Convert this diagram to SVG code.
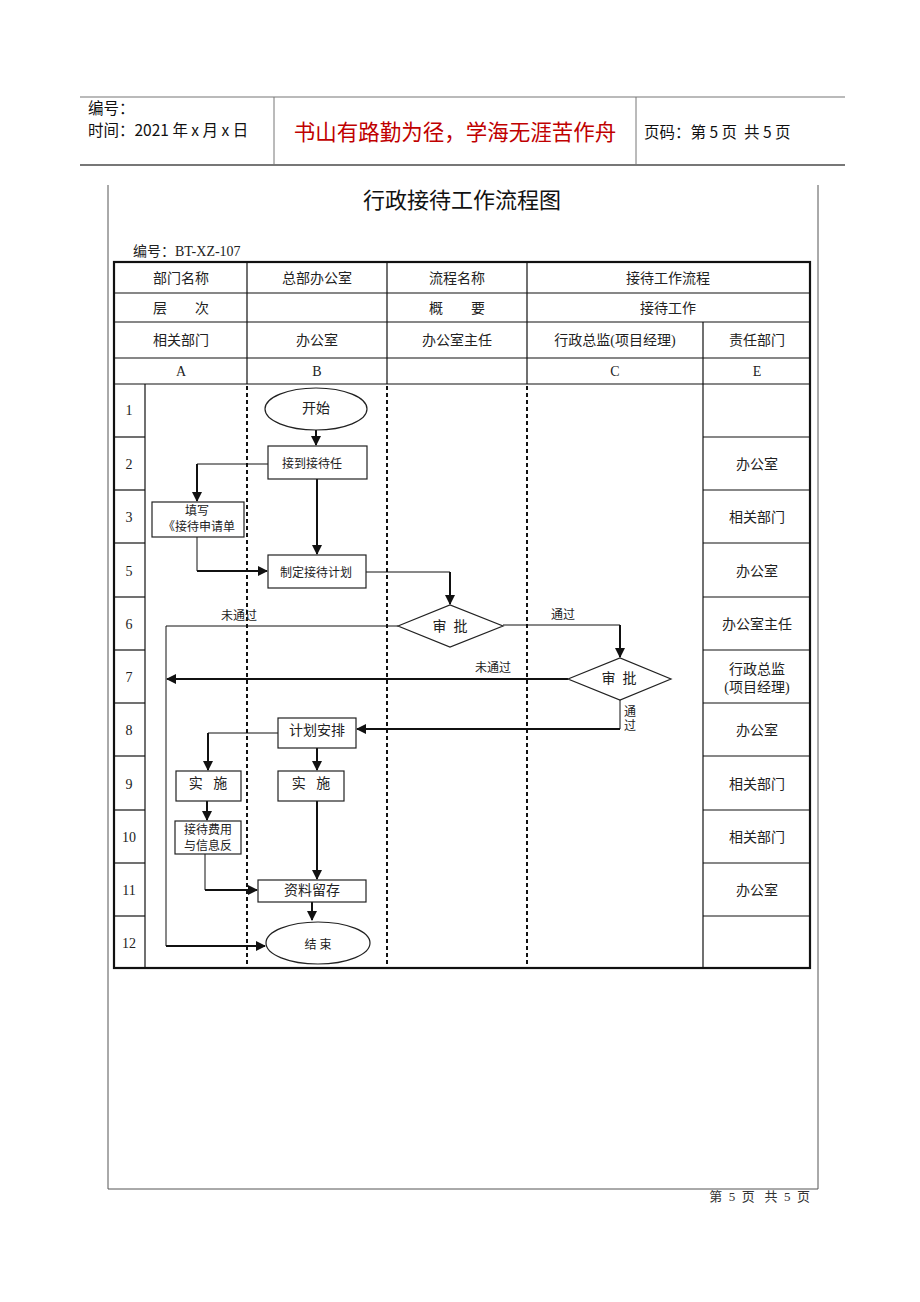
<svg xmlns="http://www.w3.org/2000/svg" width="920" height="1302" viewBox="0 0 920 1302">
<defs>
<style>
.hd{font-family:"Noto Sans CJK SC","Liberation Sans",sans-serif;font-size:15.5px;fill:#111}
.t{font-family:"Liberation Serif","Noto Sans CJK SC",serif;font-size:14px;fill:#222;text-anchor:middle;dominant-baseline:central}
.s{font-size:12px}
.frame{stroke:#555;stroke-width:1;fill:none}
.grid{stroke:#111;stroke-width:1.2;fill:none}
.dash{stroke:#111;stroke-width:2;stroke-dasharray:4 3;fill:none}
.node{fill:#fff;stroke:#222;stroke-width:1.2}
.thin{stroke:#111;stroke-width:1;fill:none}
.thick{stroke:#111;stroke-width:2;fill:none}
</style>
<marker id="ah" markerWidth="10" markerHeight="10" refX="9" refY="5" orient="auto" markerUnits="userSpaceOnUse">
<path d="M0,0 L10,5 L0,10 Z" fill="#111"/>
</marker>
</defs>
<rect width="920" height="1302" fill="#fff"/>

<!-- page header -->
<g id="header">
<line x1="80" y1="97" x2="845" y2="97" stroke="#777" stroke-width="1.2"/>
<line x1="80" y1="165" x2="845" y2="165" stroke="#777" stroke-width="2"/>
<line x1="274" y1="97" x2="274" y2="165" stroke="#777" stroke-width="1"/>
<line x1="636" y1="97" x2="636" y2="165" stroke="#777" stroke-width="1"/>
<text class="hd" x="88" y="114">编号：</text>
<text class="hd" x="88" y="136" xml:space="preserve">时间：2021 年 x 月 x 日</text>
<text x="455" y="140" text-anchor="middle" font-family="Noto Sans CJK SC, sans-serif" font-size="21.5" fill="#c00000">书山有路勤为径，学海无涯苦作舟</text>
<text class="hd" x="644" y="138" xml:space="preserve">页码：第 5 页  共 5 页</text>
</g>

<!-- page frame -->
<g id="frame">
<polyline class="frame" points="108,185 108,1189 818,1189 818,185"/>
<text x="810" y="1201" text-anchor="end" font-family="Liberation Serif, Noto Sans CJK SC, serif" font-size="13" fill="#333" xml:space="preserve">第  5  页   共  5  页</text>
</g>

<g id="title">
<text x="462" y="208" text-anchor="middle" font-family="Noto Sans CJK SC, sans-serif" font-size="22" fill="#111">行政接待工作流程图</text>
<text x="133" y="256" font-family="Liberation Serif, Noto Sans CJK SC, serif" font-size="14" fill="#222">编号：BT-XZ-107</text>
</g>

<!-- table -->
<g id="table">
<rect x="114" y="262" width="696" height="706" fill="none" stroke="#111" stroke-width="2.2"/>
<line class="grid" x1="114" y1="293" x2="810" y2="293"/>
<line class="grid" x1="114" y1="322" x2="810" y2="322"/>
<line class="grid" x1="114" y1="358" x2="810" y2="358"/>
<line class="grid" x1="114" y1="384" x2="810" y2="384"/>
<line class="grid" x1="247" y1="262" x2="247" y2="384"/>
<line class="grid" x1="387" y1="262" x2="387" y2="384"/>
<line class="grid" x1="527" y1="262" x2="527" y2="384"/>
<line class="grid" x1="703" y1="322" x2="703" y2="968"/>
<line class="grid" x1="145" y1="384" x2="145" y2="968"/>
<g class="grid">
<line x1="114" y1="437" x2="145" y2="437"/><line x1="703" y1="437" x2="810" y2="437"/>
<line x1="114" y1="490" x2="145" y2="490"/><line x1="703" y1="490" x2="810" y2="490"/>
<line x1="114" y1="543" x2="145" y2="543"/><line x1="703" y1="543" x2="810" y2="543"/>
<line x1="114" y1="597" x2="145" y2="597"/><line x1="703" y1="597" x2="810" y2="597"/>
<line x1="114" y1="650" x2="145" y2="650"/><line x1="703" y1="650" x2="810" y2="650"/>
<line x1="114" y1="703" x2="145" y2="703"/><line x1="703" y1="703" x2="810" y2="703"/>
<line x1="114" y1="756" x2="145" y2="756"/><line x1="703" y1="756" x2="810" y2="756"/>
<line x1="114" y1="810" x2="145" y2="810"/><line x1="703" y1="810" x2="810" y2="810"/>
<line x1="114" y1="863" x2="145" y2="863"/><line x1="703" y1="863" x2="810" y2="863"/>
<line x1="114" y1="916" x2="145" y2="916"/><line x1="703" y1="916" x2="810" y2="916"/>
</g>
<line class="dash" x1="247" y1="386" x2="247" y2="966"/>
<line class="dash" x1="387" y1="386" x2="387" y2="966"/>
<line class="dash" x1="527" y1="386" x2="527" y2="966"/>

<text class="t" x="181" y="278">部门名称</text>
<text class="t" x="317" y="278">总部办公室</text>
<text class="t" x="457" y="278">流程名称</text>
<text class="t" x="668" y="278">接待工作流程</text>
<text class="t" x="181" y="308" xml:space="preserve">层        次</text>
<text class="t" x="457" y="308" xml:space="preserve">概        要</text>
<text class="t" x="668" y="308">接待工作</text>
<text class="t" x="181" y="340">相关部门</text>
<text class="t" x="317" y="340">办公室</text>
<text class="t" x="457" y="340">办公室主任</text>
<text class="t" x="615" y="340">行政总监(项目经理)</text>
<text class="t" x="757" y="340">责任部门</text>
<text class="t" x="181" y="371">A</text>
<text class="t" x="317" y="371">B</text>
<text class="t" x="615" y="371">C</text>
<text class="t" x="757" y="371">E</text>

<text class="t" x="129" y="410">1</text>
<text class="t" x="129" y="464">2</text>
<text class="t" x="129" y="517">3</text>
<text class="t" x="129" y="571">5</text>
<text class="t" x="129" y="624">6</text>
<text class="t" x="129" y="677">7</text>
<text class="t" x="129" y="730">8</text>
<text class="t" x="129" y="784">9</text>
<text class="t" x="129" y="837">10</text>
<text class="t" x="129" y="890">11</text>
<text class="t" x="129" y="943">12</text>

<text class="t" x="757" y="464">办公室</text>
<text class="t" x="757" y="517">相关部门</text>
<text class="t" x="757" y="571">办公室</text>
<text class="t" x="757" y="624">办公室主任</text>
<text class="t" x="757" y="669">行政总监</text>
<text class="t" x="757" y="687">(项目经理)</text>
<text class="t" x="757" y="730">办公室</text>
<text class="t" x="757" y="784">相关部门</text>
<text class="t" x="757" y="837">相关部门</text>
<text class="t" x="757" y="890">办公室</text>
</g>

<!-- connectors -->
<g id="connectors">
<line class="thick" x1="316" y1="430" x2="316" y2="445" marker-end="url(#ah)"/>
<polyline class="thin" points="268,464 197,464"/>
<line class="thick" x1="197" y1="464" x2="197" y2="501" marker-end="url(#ah)"/>
<line class="thick" x1="317" y1="479" x2="317" y2="554" marker-end="url(#ah)"/>
<line class="thin" x1="197" y1="537" x2="197" y2="571"/>
<line class="thick" x1="197" y1="571" x2="267" y2="571" marker-end="url(#ah)"/>
<line class="thin" x1="366" y1="572" x2="450" y2="572"/>
<line class="thick" x1="450" y1="572" x2="450" y2="604" marker-end="url(#ah)"/>
<polyline class="thin" points="398,626 166,626 166,946"/>
<line class="thick" x1="166" y1="946" x2="265" y2="946" marker-end="url(#ah)"/>
<line class="thin" x1="503" y1="625" x2="620" y2="625"/>
<line class="thick" x1="620" y1="625" x2="620" y2="657" marker-end="url(#ah)"/>
<line class="thick" x1="568" y1="679" x2="167" y2="679" marker-end="url(#ah)"/>
<line class="thin" x1="620" y1="699" x2="620" y2="729"/>
<line class="thick" x1="620" y1="729" x2="357" y2="729" marker-end="url(#ah)"/>
<line class="thin" x1="278" y1="733" x2="208" y2="733"/>
<line class="thick" x1="208" y1="733" x2="208" y2="770" marker-end="url(#ah)"/>
<line class="thick" x1="317" y1="748" x2="317" y2="770" marker-end="url(#ah)"/>
<line class="thick" x1="207" y1="801" x2="207" y2="820" marker-end="url(#ah)"/>
<line class="thin" x1="205" y1="854" x2="205" y2="890"/>
<line class="thick" x1="205" y1="890" x2="257" y2="890" marker-end="url(#ah)"/>
<line class="thick" x1="317" y1="801" x2="317" y2="879" marker-end="url(#ah)"/>
<line class="thick" x1="312" y1="902" x2="312" y2="920" marker-end="url(#ah)"/>
<text class="t s" x="239" y="616">未通过</text>
<text class="t s" x="563" y="615">通过</text>
<text class="t s" x="493" y="668">未通过</text>
<text class="t s" x="630" y="712">通</text>
<text class="t s" x="630" y="726">过</text>
</g>

<!-- nodes -->
<g id="n-start"><ellipse class="node" cx="316" cy="409" rx="51" ry="21"/><text class="t" x="316" y="408" font-size="15">开始</text></g>
<g id="n-receive"><rect class="node" x="268" y="446" width="99" height="33"/><text class="t s" x="312" y="464">接到接待任</text></g>
<g id="n-fill"><rect class="node" x="152" y="502" width="92" height="35"/><text class="t s" x="197" y="511">填写</text><text class="t s" x="199" y="527">《接待申请单</text></g>
<g id="n-plan"><rect class="node" x="268" y="555" width="98" height="33"/><text class="t s" x="316" y="573">制定接待计划</text></g>
<g id="n-review1"><polygon class="node" points="398,626 450,605 503,626 450,647"/><text class="t" x="450" y="626" xml:space="preserve">审  批</text></g>
<g id="n-review2"><polygon class="node" points="568,679 620,658 671,679 620,700"/><text class="t" x="619" y="678" xml:space="preserve">审  批</text></g>
<g id="n-arrange"><rect class="node" x="278" y="718" width="78" height="30"/><text class="t" x="317" y="730">计划安排</text></g>
<g id="n-implA"><rect class="node" x="176" y="771" width="65" height="30"/><text class="t" x="208" y="783" font-size="15" xml:space="preserve">实   施</text></g>
<g id="n-implB"><rect class="node" x="278" y="771" width="66" height="30"/><text class="t" x="311" y="783" font-size="15" xml:space="preserve">实   施</text></g>
<g id="n-feedback"><rect class="node" x="175" y="821" width="66" height="33"/><text class="t s" x="208" y="830">接待费用</text><text class="t s" x="208" y="846">与信息反</text></g>
<g id="n-archive"><rect class="node" x="258" y="880" width="108" height="22"/><text class="t" x="312" y="890">资料留存</text></g>
<g id="n-end"><ellipse class="node" cx="318" cy="943" rx="52" ry="21"/><text class="t s" x="318" y="945">结 束</text></g>
</svg>
